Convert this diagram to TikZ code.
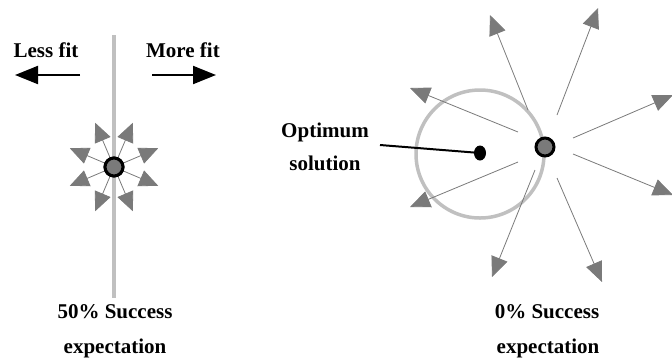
\documentclass[tikz,border=0pt]{standalone}
\usepackage{fontspec}
\setmainfont{Liberation Serif}
\usetikzlibrary{arrows.meta,shapes.geometric}
\definecolor{lgray}{HTML}{C0C0C0}
\definecolor{mgray}{HTML}{7A7A7A}
\begin{document}
\begin{tikzpicture}[x=1pt,y=-1pt,
  lbl/.style={font=\fontsize{21}{24}\selectfont\bfseries, inner sep=0pt, anchor=base},
  fitarrow/.style={line width=2pt, -{Triangle[length=23pt,width=18pt]}},
  sarrow/.style={mgray, line width=0.8pt, -{Triangle[length=19pt,width=17pt]}},
  barrow/.style={mgray, line width=0.8pt, -{Triangle[length=20pt,width=17pt]}},
  gdot/.style={circle, draw=black, line width=3pt, fill=mgray, inner sep=0pt, minimum size=18pt}]
\useasboundingbox (0,0) rectangle (672,360);

% ---------- left panel ----------
\coordinate (vtop) at (114,35);
\coordinate (vbot) at (114,298);
\draw[lgray, line width=4pt] (vtop) -- (vbot);

\node[lbl] (less) at (46,57) {Less fit};
\node[lbl] (more) at (183,57) {More fit};
\coordinate (lessT) at (80,75);
\coordinate (lessH) at (15,75);
\coordinate (moreT) at (152,75);
\coordinate (moreH) at (216,75);
\draw[fitarrow] (lessT) -- (lessH);
\draw[fitarrow] (moreT) -- (moreH);

\node[gdot] (dotL) at (114,167) {};
\foreach \a [count=\i] in {23,67,113,157,203,247,293,337}{
  \coordinate (tL\i) at ([shift={(\a:48)}]dotL.center);
  \draw[sarrow] (dotL) -- (tL\i);
}
\node[gdot] at (dotL.center) {};

\node[lbl] (succL) at (115,318) {50\% Success};
\node[lbl] (expL) at (115,353) {expectation};

% ---------- right panel ----------
\node[circle, draw=lgray, line width=3.5pt, minimum size=128pt, inner sep=0pt] (opt) at (480,154) {};
\node[ellipse, fill=black, inner sep=0pt, minimum width=12pt, minimum height=15pt] (optdot) at (480,153) {};

\node[lbl] (optA) at (325,137) {Optimum};
\node[lbl] (optB) at (325,170) {solution};
\coordinate (optLine) at (380,145);
\draw[line width=2pt] (optLine) -- (optdot.center);

\node[gdot] (dotR) at (545,147) {};
\coordinate (s1) at (528,110); \coordinate (t1) at (490,15);
\coordinate (s2) at (557,115); \coordinate (t2) at (598,8);
\coordinate (s3) at (573,138); \coordinate (t3) at (673,95);
\coordinate (s4) at (573,154); \coordinate (t4) at (673,195);
\coordinate (s5) at (557,178); \coordinate (t5) at (602,282);
\coordinate (s6) at (535,170); \coordinate (t6) at (492,277);
\coordinate (s7) at (518,162); \coordinate (t7) at (410,207);
\coordinate (s8) at (518,132); \coordinate (t8) at (410,88);
\foreach \i in {1,...,8}{
  \draw[barrow] (s\i) -- (t\i);
}

\node[lbl] (succR) at (547,318) {0\% Success};
\node[lbl] (expR) at (548,353) {expectation};
\end{tikzpicture}
\end{document}
